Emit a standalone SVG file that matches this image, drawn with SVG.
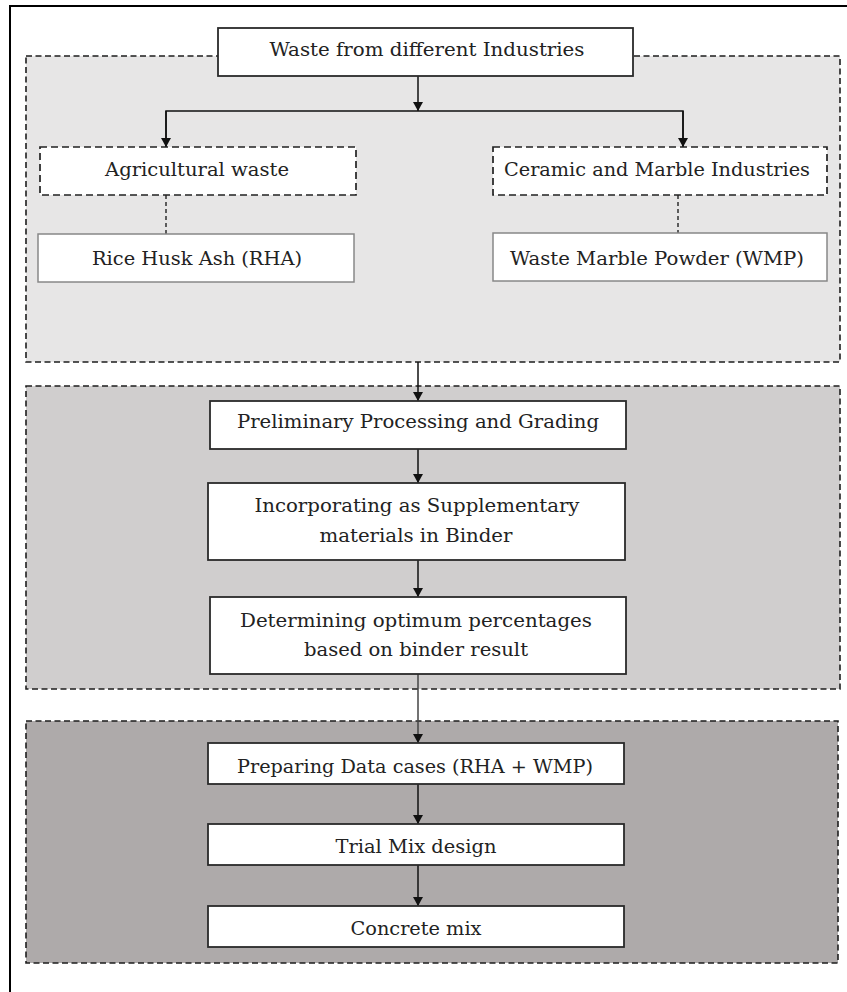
<svg xmlns="http://www.w3.org/2000/svg" width="847" height="992" viewBox="0 0 847 992">
<defs>
<marker id="arr" markerUnits="userSpaceOnUse" markerWidth="9" markerHeight="10" refX="9" refY="5" orient="auto">
<path d="M0,0 L9,5 L0,10 z" fill="#111"/>
</marker>
<style>
.grp{stroke:#1e1e1e;stroke-width:1.6;stroke-dasharray:6 3.5}
.box{fill:#fff;stroke:#2a2a2a;stroke-width:1.8}
.dbox{fill:#fff;stroke:#222;stroke-width:1.7;stroke-dasharray:7 4}
.gbox{fill:#fff;stroke:#888;stroke-width:1.5}
.t{font-family:"DejaVu Serif","Liberation Serif",serif;font-size:19px;fill:#222;text-anchor:middle}
.ln{stroke:#111;stroke-width:1.5;fill:none}
.dln{stroke:#222;stroke-width:1.4;fill:none;stroke-dasharray:4 3}
</style>
</defs>
<rect x="10" y="6" width="900" height="1000" fill="#fff" stroke="#000" stroke-width="2"/>

<g id="group1"><rect class="grp" x="26" y="56" width="814" height="306" fill="#E7E6E6"/></g>
<g id="group2"><rect class="grp" x="26" y="386" width="814" height="303" fill="#D0CECE"/></g>
<g id="group3"><rect class="grp" x="26" y="721" width="812" height="242" fill="#AEAAAA"/></g>

<g id="connectors">
<line class="ln" x1="418" y1="76" x2="418" y2="111" marker-end="url(#arr)"/>
<polyline class="ln" points="166,147 166,111 683,111 683,147"/>
<line class="ln" x1="166" y1="111" x2="166" y2="147" marker-end="url(#arr)"/>
<line class="ln" x1="683" y1="111" x2="683" y2="147" marker-end="url(#arr)"/>
<line class="dln" x1="166" y1="195" x2="166" y2="234"/>
<line class="dln" x1="678" y1="195" x2="678" y2="233"/>
<line class="ln" x1="418" y1="362" x2="418" y2="401" marker-end="url(#arr)"/>
<line class="ln" x1="418" y1="449" x2="418" y2="483" marker-end="url(#arr)"/>
<line class="ln" x1="418" y1="560" x2="418" y2="597" marker-end="url(#arr)"/>
<line class="ln" x1="418" y1="674" x2="418" y2="743" marker-end="url(#arr)" style="stroke:#444"/>
<line class="ln" x1="418" y1="784" x2="418" y2="824" marker-end="url(#arr)"/>
<line class="ln" x1="418" y1="865" x2="418" y2="906" marker-end="url(#arr)"/>
</g>

<g id="n-waste"><rect class="box" x="218" y="28" width="415" height="48"/>
<text class="t" x="427" y="56" textLength="315" lengthAdjust="spacingAndGlyphs">Waste from different Industries</text></g>

<g id="n-agri"><rect class="dbox" x="40" y="147" width="316" height="48"/>
<text class="t" x="197" y="176" textLength="184" lengthAdjust="spacingAndGlyphs">Agricultural waste</text></g>

<g id="n-ceramic"><rect class="dbox" x="493" y="147" width="334" height="48"/>
<text class="t" x="657" y="176" textLength="306" lengthAdjust="spacingAndGlyphs">Ceramic and Marble Industries</text></g>

<g id="n-rha"><rect class="gbox" x="38" y="234" width="316" height="48"/>
<text class="t" x="197" y="265" textLength="210" lengthAdjust="spacingAndGlyphs">Rice Husk Ash (RHA)</text></g>

<g id="n-wmp"><rect class="gbox" x="493" y="233" width="334" height="48"/>
<text class="t" x="657" y="265" textLength="294" lengthAdjust="spacingAndGlyphs">Waste Marble Powder (WMP)</text></g>

<g id="n-prelim"><rect class="box" x="210" y="401" width="416" height="48"/>
<text class="t" x="418" y="428" textLength="362" lengthAdjust="spacingAndGlyphs">Preliminary Processing and Grading</text></g>

<g id="n-incorp"><rect class="box" x="208" y="483" width="417" height="77"/>
<text class="t" x="417" y="512" textLength="325" lengthAdjust="spacingAndGlyphs">Incorporating as Supplementary</text>
<text class="t" x="416" y="542" textLength="193" lengthAdjust="spacingAndGlyphs">materials in Binder</text></g>

<g id="n-determ"><rect class="box" x="210" y="597" width="416" height="77"/>
<text class="t" x="416" y="627" textLength="352" lengthAdjust="spacingAndGlyphs">Determining optimum percentages</text>
<text class="t" x="416" y="656" textLength="224" lengthAdjust="spacingAndGlyphs">based on binder result</text></g>

<g id="n-prep"><rect class="box" x="208" y="743" width="416" height="41"/>
<text class="t" x="415" y="773" textLength="356" lengthAdjust="spacingAndGlyphs">Preparing Data cases (RHA + WMP)</text></g>

<g id="n-trial"><rect class="box" x="208" y="824" width="416" height="41"/>
<text class="t" x="416" y="853" textLength="161" lengthAdjust="spacingAndGlyphs">Trial Mix design</text></g>

<g id="n-concrete"><rect class="box" x="208" y="906" width="416" height="41"/>
<text class="t" x="416" y="935" textLength="131" lengthAdjust="spacingAndGlyphs">Concrete mix</text></g>
</svg>
